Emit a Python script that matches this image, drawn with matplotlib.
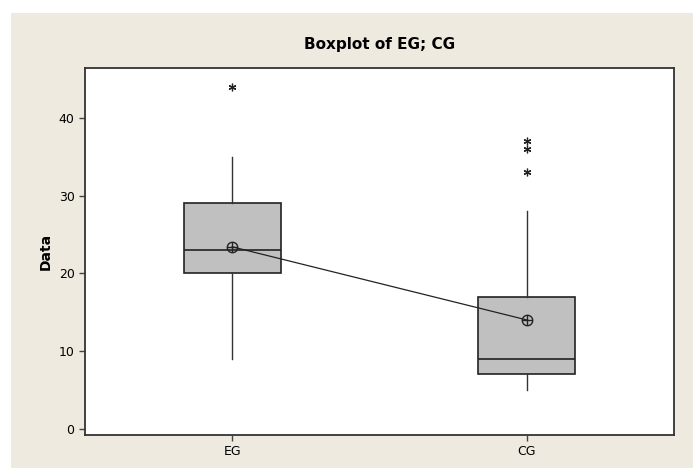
import numpy as np
import matplotlib.pyplot as plt
from matplotlib.patches import Rectangle

# group names and box statistics
groups = ["EG", "CG"]
q1 = [20, 7]
medians = [23, 9]
q3 = [29, 17]
whisker_lo = [9, 5]
whisker_hi = [35, 28]
means = [23.4, 14]
outliers = [[44], [33, 36, 37]]

box_color = "#C0C0C0"
bg_color = "#EEEAE0"

fig = plt.figure(figsize=(6.93, 4.68), dpi=100, facecolor="white")
# beige panel behind the plot (white strip at top/left like the original)
fig.patches.append(Rectangle((11 / 693, 0), 1, 1 - 13 / 468, transform=fig.transFigure,
                             facecolor=bg_color, edgecolor="none", zorder=-10))

ax = fig.add_axes([85 / 693, 1 - 435 / 468, (674 - 85) / 693, (435 - 68) / 468])
ax.set_facecolor("white")

stats = []
for i in range(len(groups)):
    stats.append({"label": groups[i], "q1": q1[i], "med": medians[i], "q3": q3[i],
                  "whislo": whisker_lo[i], "whishi": whisker_hi[i],
                  "mean": means[i], "fliers": outliers[i]})

pos = np.arange(1, len(groups) + 1)
ax.bxp(stats, positions=pos, widths=0.33, patch_artist=True, showcaps=False,
       showfliers=False, showmeans=False,
       boxprops=dict(facecolor=box_color, edgecolor="#222222", linewidth=1.2),
       medianprops=dict(color="#222222", linewidth=1.2),
       whiskerprops=dict(color="#333333", linewidth=1.0))

# outliers as asterisks
for p, out in zip(pos, outliers):
    ax.plot([p] * len(out), out, linestyle="none", marker=(6, 2, 0), markersize=5.5,
            color="#222222", markeredgewidth=0.9, zorder=4)

# connect means and mark them with circled plus
ax.plot(pos, means, color="#222222", linewidth=0.9, zorder=4)
ax.plot(pos, means, linestyle="none", marker="o", markersize=7.5, markerfacecolor="none",
        markeredgecolor="#222222", markeredgewidth=1.0, zorder=5)
ax.plot(pos, means, linestyle="none", marker="+", markersize=7.5,
        color="#222222", markeredgewidth=1.0, zorder=5)

ax.set_xlim(0.5, 2.5)
ax.set_ylim(-0.8, 46.4)
ax.set_yticks([0, 10, 20, 30, 40])
ax.set_xticks(pos)
ax.set_xticklabels(groups)
ax.tick_params(direction="out", length=4, width=1, colors="#444444", labelsize=9,
               labelcolor="black")
for s in ax.spines.values():
    s.set_color("#333333")
    s.set_linewidth(1.3)

ax.set_ylabel("Data", fontsize=10, fontweight="bold")
fig.text((85 + 674) / 2 / 693, 1 - 45 / 468, "Boxplot of EG; CG", ha="center", va="center",
         fontsize=11, fontweight="bold")

fig.savefig("out.png", dpi=100, facecolor=fig.get_facecolor())
